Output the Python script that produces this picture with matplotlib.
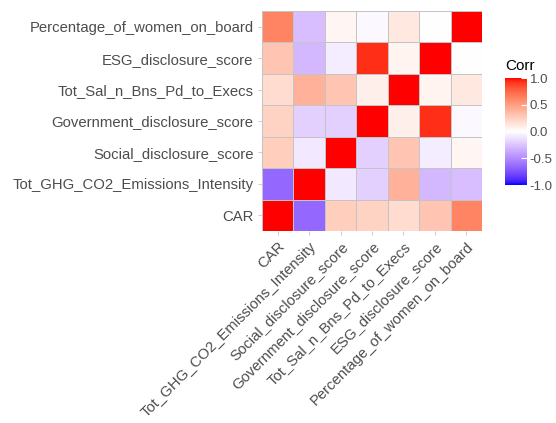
import numpy as np
import matplotlib.pyplot as plt
from matplotlib.colors import LinearSegmentedColormap

variables = ['CAR', 'Tot_GHG_CO2_Emissions_Intensity', 'Social_disclosure_score',
             'Government_disclosure_score', 'Tot_Sal_n_Bns_Pd_to_Execs',
             'ESG_disclosure_score', 'Percentage_of_women_on_board']

# lower triangle of the correlation matrix, row by row
r_ghg = [-0.65]
r_social = [0.25, -0.10]
r_gov = [0.23, -0.20, -0.20]
r_totsal = [0.18, 0.40, 0.30, 0.08]
r_esg = [0.30, -0.30, -0.08, 0.93, 0.06]
r_pct = [0.62, -0.28, 0.05, -0.03, 0.12, 0.00]

n = len(variables)
corr = np.eye(n)
for i, row in enumerate([r_ghg, r_social, r_gov, r_totsal, r_esg, r_pct], start=1):
    for j, v in enumerate(row):
        corr[i, j] = v
        corr[j, i] = v


# ggplot gradient2 interpolates in Lab, build the colormap that way
def lab2rgb(L, a, b):
    fy = (L + 16) / 116
    fx = fy + a / 500
    fz = fy - b / 200
    def finv(t):
        return np.where(t > 6 / 29, t ** 3, 3 * (6 / 29) ** 2 * (t - 4 / 29))
    X, Y, Z = 0.95047 * finv(fx), finv(fy), 1.08883 * finv(fz)
    rgb = np.array([3.2406 * X - 1.5372 * Y - 0.4986 * Z,
                    -0.9689 * X + 1.8758 * Y + 0.0415 * Z,
                    0.0557 * X - 0.2040 * Y + 1.0570 * Z])
    rgb = np.where(rgb > 0.0031308, 1.055 * np.abs(rgb) ** (1 / 2.4) - 0.055, 12.92 * rgb)
    return np.clip(rgb, 0, 1)

lab_blue = np.array([32.30, 79.19, -107.86])
lab_white = np.array([100.0, 0.0, 0.0])
lab_red = np.array([53.24, 80.09, 67.20])
stops = []
for t in np.linspace(0, 1, 41):
    if t < 0.5:
        lab = lab_blue + (lab_white - lab_blue) * (t / 0.5)
    else:
        lab = lab_white + (lab_red - lab_white) * ((t - 0.5) / 0.5)
    stops.append((t, lab2rgb(*lab)))
cmap = LinearSegmentedColormap.from_list('corr', stops)

plt.rcParams['font.family'] = 'Liberation Sans'
fig = plt.figure(figsize=(5.56, 4.23), dpi=100)
ax = fig.add_axes([0.471, 0.454, 0.396, 0.520])

x = np.arange(n + 1) - 0.5
mesh = ax.pcolormesh(x, x, corr, cmap=cmap, vmin=-1, vmax=1,
                     edgecolor='#C4C4C4', linewidth=0.5)
ax.set_xlim(-0.5, n - 0.5)
ax.set_ylim(-0.5, n - 0.5)
ax.set_xticks(range(n))
ax.set_yticks(range(n))
ax.set_xticklabels(variables, rotation=45, ha='right', va='top',
                   rotation_mode='anchor', fontsize=10.7, color='#4D4D4D')
ax.set_yticklabels(variables, fontsize=10.7, color='#4D4D4D')
ax.tick_params(length=3, color='#C4C4C4', width=0.6, pad=3)
for s in ax.spines.values():
    s.set_visible(False)

cax = fig.add_axes([505 / 556, 1 - 185 / 423, 22 / 556, 107 / 423])
cb = fig.colorbar(mesh, cax=cax, ticks=[-1, -0.5, 0, 0.5, 1])
cb.outline.set_visible(False)
cb.ax.set_yticklabels(['-1.0', '-0.5', '0.0', '0.5', '1.0'], fontsize=9.5, color='#4D4D4D')
cb.ax.tick_params(length=4, color='white', width=0.8, direction='in', pad=2)
cb.ax.set_title('Corr', fontsize=11, loc='left', pad=6, color='black')

plt.savefig('out.png', dpi=100)
